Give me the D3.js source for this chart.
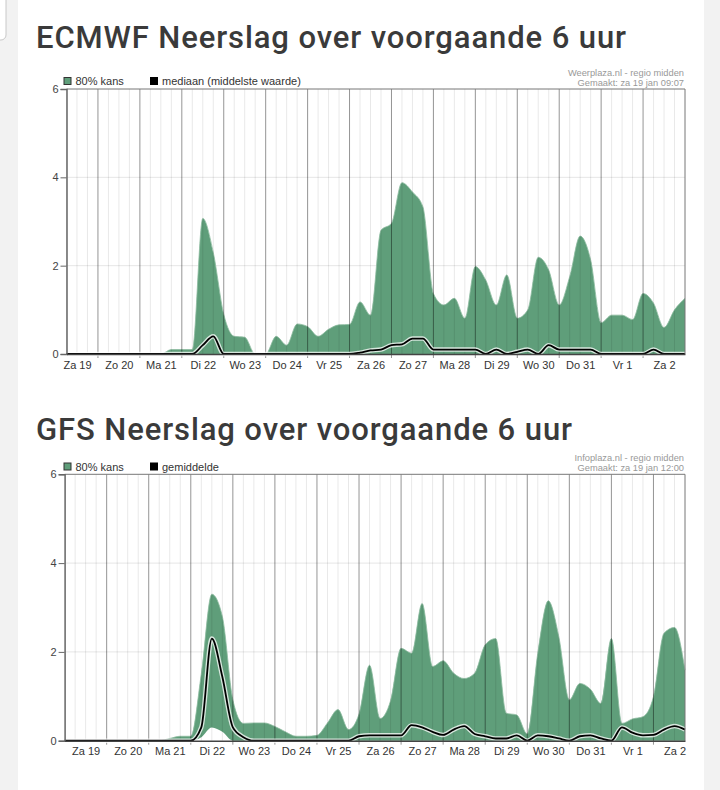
<!DOCTYPE html>
<html>
<head>
<meta charset="utf-8">
<script src="https://cdn.jsdelivr.net/npm/d3@7"></script>
<style>
  body { margin: 0; background: #f2f2f2; }
  svg { display: block; }
</style>
</head>
<body>
<script>
// day labels, one per calendar day starting za 19 jan
const dayLabels = ["Za 19", "Zo 20", "Ma 21", "Di 22", "Wo 23", "Do 24", "Vr 25", "Za 26",
  "Zo 27", "Ma 28", "Di 29", "Wo 30", "Do 31", "Vr 1", "Za 2"];
const yTicks = [0, 2, 4, 6];

// ECMWF, 6-hourly from za 19 06:00
const ecmwfUpper = [0, 0, 0, 0, 0, 0, 0, 0, 0, 0,
  0.1, 0.1, 0.1, 3.07, 2.3, 0.9, 0.4, 0.38, 0, 0,
  0.4, 0.2, 0.68, 0.62, 0.4, 0.56, 0.66, 0.67, 1.18, 0.88,
  2.8, 2.96, 3.88, 3.67, 3.33, 1.37, 1.11, 1.26, 0.81, 1.98,
  1.67, 1.11, 1.79, 0.81, 1.0, 2.19, 1.9, 1.11, 1.75, 2.67,
  2.13, 0.71, 0.88, 0.88, 0.78, 1.37, 1.15, 0.6, 1.0, 1.26];
const ecmwfMedian = [0, 0, 0, 0, 0, 0, 0, 0, 0, 0,
  0, 0, 0, 0.2, 0.4, 0, 0, 0, 0, 0,
  0, 0, 0, 0, 0, 0, 0, 0, 0.03, 0.08,
  0.1, 0.2, 0.22, 0.35, 0.35, 0.1, 0.1, 0.1, 0.1, 0.1,
  0, 0.1, 0, 0.05, 0.1, 0, 0.2, 0.1, 0.1, 0.1,
  0.1, 0, 0, 0, 0, 0, 0.1, 0, 0, 0];

// GFS, 6-hourly from za 19 00:00
const gfsUpper = [0, 0, 0, 0, 0, 0, 0, 0, 0, 0,
  0.05, 0.1, 0.1, 1.5, 3.3, 2.8, 0.92, 0.39, 0.4, 0.4,
  0.32, 0.2, 0.1, 0.1, 0.12, 0.4, 0.7, 0.25, 0.6, 1.7,
  0.5, 0.9, 2.08, 1.97, 3.09, 1.67, 1.8, 1.52, 1.4, 1.52,
  2.16, 2.3, 0.62, 0.58, 0.15, 1.97, 3.15, 2.34, 0.92, 1.29,
  1.16, 0.84, 2.3, 0.39, 0.49, 0.54, 0.99, 2.42, 2.55, 1.59];
const gfsLower = [0, 0, 0, 0, 0, 0, 0, 0, 0, 0,
  0, 0, 0, 0.08, 0.3, 0.2, 0, 0, 0, 0,
  0, 0, 0, 0, 0, 0, 0, 0, 0, 0,
  0, 0, 0, 0, 0, 0, 0, 0, 0, 0,
  0, 0, 0, 0, 0, 0, 0, 0, 0, 0,
  0, 0, 0, 0, 0, 0, 0, 0, 0, 0];
const gfsMean = [0, 0, 0, 0, 0, 0, 0, 0, 0, 0,
  0, 0, 0, 0.3, 2.3, 1.44, 0.3, 0.08, 0, 0,
  0, 0, 0, 0, 0, 0, 0, 0, 0.1, 0.12,
  0.12, 0.12, 0.12, 0.35, 0.3, 0.2, 0.13, 0.25, 0.33, 0.15,
  0.1, 0.05, 0.05, 0.12, 0, 0.12, 0.1, 0.05, 0, 0.1,
  0.12, 0.05, 0, 0.3, 0.18, 0.12, 0.13, 0.25, 0.33, 0.25];

const W = 720, H = 790;
const green = "#5f9e7a";
const svg = d3.select("body").append("svg").attr("width", W).attr("height", H);

// white page card + the little box in the corner
svg.append("rect").attr("x", 18).attr("y", 0).attr("width", 686).attr("height", H).attr("fill", "#fff");
svg.append("rect").attr("x", -10).attr("y", -10).attr("width", 16).attr("height", 50)
  .attr("rx", 5).attr("fill", "#fff").attr("stroke", "#c8c8c8");

function drawChart(c) {
  const startDay = new Date(2019, 0, 19);
  const x = d3.scaleTime().domain([c.start, c.end]).range([c.left, c.right]);
  const y = d3.scaleLinear().domain([0, 6]).range([c.bottom, c.top]);
  const t = (i) => d3.timeHour.offset(c.start, 6 * i);
  const g = svg.append("g");

  g.append("text").attr("x", 36).attr("y", c.titleY)
    .attr("font-family", "Roboto, sans-serif").attr("font-weight", 500)
    .attr("font-size", 31).attr("letter-spacing", 0.9).attr("fill", "#3a3a3a").text(c.title);

  // light horizontal grid
  g.selectAll(".hg").data(yTicks.filter(v => v > 0 && v < 6)).enter().append("line")
    .attr("x1", c.left).attr("x2", c.right).attr("y1", d => y(d)).attr("y2", d => y(d))
    .attr("stroke", "#e6e6e6");

  // 80% band
  const area = d3.area().curve(d3.curveMonotoneX)
    .x((d, i) => x(t(i))).y0((d, i) => y(c.lower[i])).y1(d => y(d));
  g.append("path").datum(c.upper).attr("d", area).attr("fill", green);
  g.append("path").datum(c.upper)
    .attr("d", d3.line().curve(d3.curveMonotoneX).x((d, i) => x(t(i))).y(d => y(d)))
    .attr("fill", "none").attr("stroke", "#8dbb9f").attr("stroke-width", 0.8);

  // 6-hourly and daily vertical grid, drawn over the band
  const hours = d3.timeHour.every(6).range(c.start, c.end).filter(d => d.getHours() !== 0);
  g.selectAll(".vg").data(hours).enter().append("line")
    .attr("x1", d => x(d)).attr("x2", d => x(d)).attr("y1", c.top).attr("y2", c.bottom)
    .attr("stroke", "#000").attr("stroke-opacity", 0.09);
  const days = d3.timeDay.range(d3.timeHour.offset(c.start, 1), c.end);
  g.selectAll(".dg").data(days).enter().append("line")
    .attr("x1", d => x(d)).attr("x2", d => x(d)).attr("y1", c.top).attr("y2", c.bottom + 4)
    .attr("stroke", "#000").attr("stroke-opacity", 0.42);

  // black line with a light halo
  const line = d3.line().curve(d3.curveMonotoneX).x((d, i) => x(t(i))).y(d => y(d));
  g.append("path").datum(c.line).attr("d", line).attr("fill", "none")
    .attr("stroke", "#fff").attr("stroke-opacity", 0.75).attr("stroke-width", 4.5);
  g.append("path").datum(c.line).attr("d", line).attr("fill", "none")
    .attr("stroke", "#000").attr("stroke-width", 1.8);

  // frame
  g.append("line").attr("x1", c.left).attr("x2", c.right).attr("y1", c.top).attr("y2", c.top)
    .attr("stroke", "#777");
  g.append("line").attr("x1", c.right).attr("x2", c.right).attr("y1", c.top).attr("y2", c.bottom)
    .attr("stroke", "#777");

  // y axis
  const ya = g.append("g").attr("transform", `translate(${c.left},0)`)
    .call(d3.axisLeft(y).tickValues(yTicks).tickSize(6).tickPadding(2).tickFormat(d3.format("d")));
  ya.select(".domain").attr("stroke", "#666").attr("stroke-width", 1.5);
  ya.selectAll(".tick line").attr("stroke", "#666");
  ya.selectAll("text").attr("font-family", "Liberation Sans, Arial, sans-serif")
    .attr("font-size", 11).attr("fill", "#444");

  // x axis: labels at noon of each day
  const noons = dayLabels.map((l, k) => d3.timeHour.offset(d3.timeDay.offset(startDay, k), 12));
  const xa = g.append("g").attr("transform", `translate(0,${c.bottom})`)
    .call(d3.axisBottom(x).tickValues(noons).tickSize(0).tickPadding(7)
      .tickFormat((d, k) => dayLabels[k]));
  xa.select(".domain").attr("stroke", "#444").attr("stroke-width", 1.5);
  xa.selectAll("text").attr("font-family", "Liberation Sans, Arial, sans-serif")
    .attr("font-size", 11).attr("fill", "#333");

  // legend
  const lg = g.append("g").attr("font-family", "Liberation Sans, Arial, sans-serif")
    .attr("font-size", 11).attr("fill", "#333");
  lg.append("rect").attr("x", 64).attr("y", c.legendY - 7.5).attr("width", 7).attr("height", 7)
    .attr("fill", green).attr("stroke", "#333");
  lg.append("text").attr("x", 75.5).attr("y", c.legendY).text("80% kans");
  lg.append("rect").attr("x", 150).attr("y", c.legendY - 8).attr("width", 8).attr("height", 8)
    .attr("fill", "#000");
  lg.append("text").attr("x", 162).attr("y", c.legendY).text(c.lineName);

  // source text
  const st = g.append("g").attr("font-family", "Liberation Sans, Arial, sans-serif")
    .attr("font-size", 9.3).attr("fill", "#999").attr("text-anchor", "end");
  st.append("text").attr("x", 684).attr("y", c.top - 13).text(c.source);
  st.append("text").attr("x", 684).attr("y", c.top - 3).text(c.made);
}

drawChart({
  title: "ECMWF Neerslag over voorgaande 6 uur", titleY: 48,
  start: new Date(2019, 0, 19, 6), end: new Date(2019, 1, 3, 0),
  left: 66.5, right: 685, top: 89, bottom: 354, legendY: 85,
  upper: ecmwfUpper, lower: ecmwfUpper.map(() => 0), line: ecmwfMedian,
  lineName: "mediaan (middelste waarde)",
  source: "Weerplaza.nl - regio midden", made: "Gemaakt: za 19 jan 09:07"
});

drawChart({
  title: "GFS Neerslag over voorgaande 6 uur", titleY: 440,
  start: new Date(2019, 0, 19, 0), end: new Date(2019, 1, 2, 18),
  left: 64.6, right: 685, top: 474.3, bottom: 740.7, legendY: 470.5,
  upper: gfsUpper, lower: gfsLower, line: gfsMean,
  lineName: "gemiddelde",
  source: "Infoplaza.nl - regio midden", made: "Gemaakt: za 19 jan 12:00"
});
</script>
</body>
</html>
